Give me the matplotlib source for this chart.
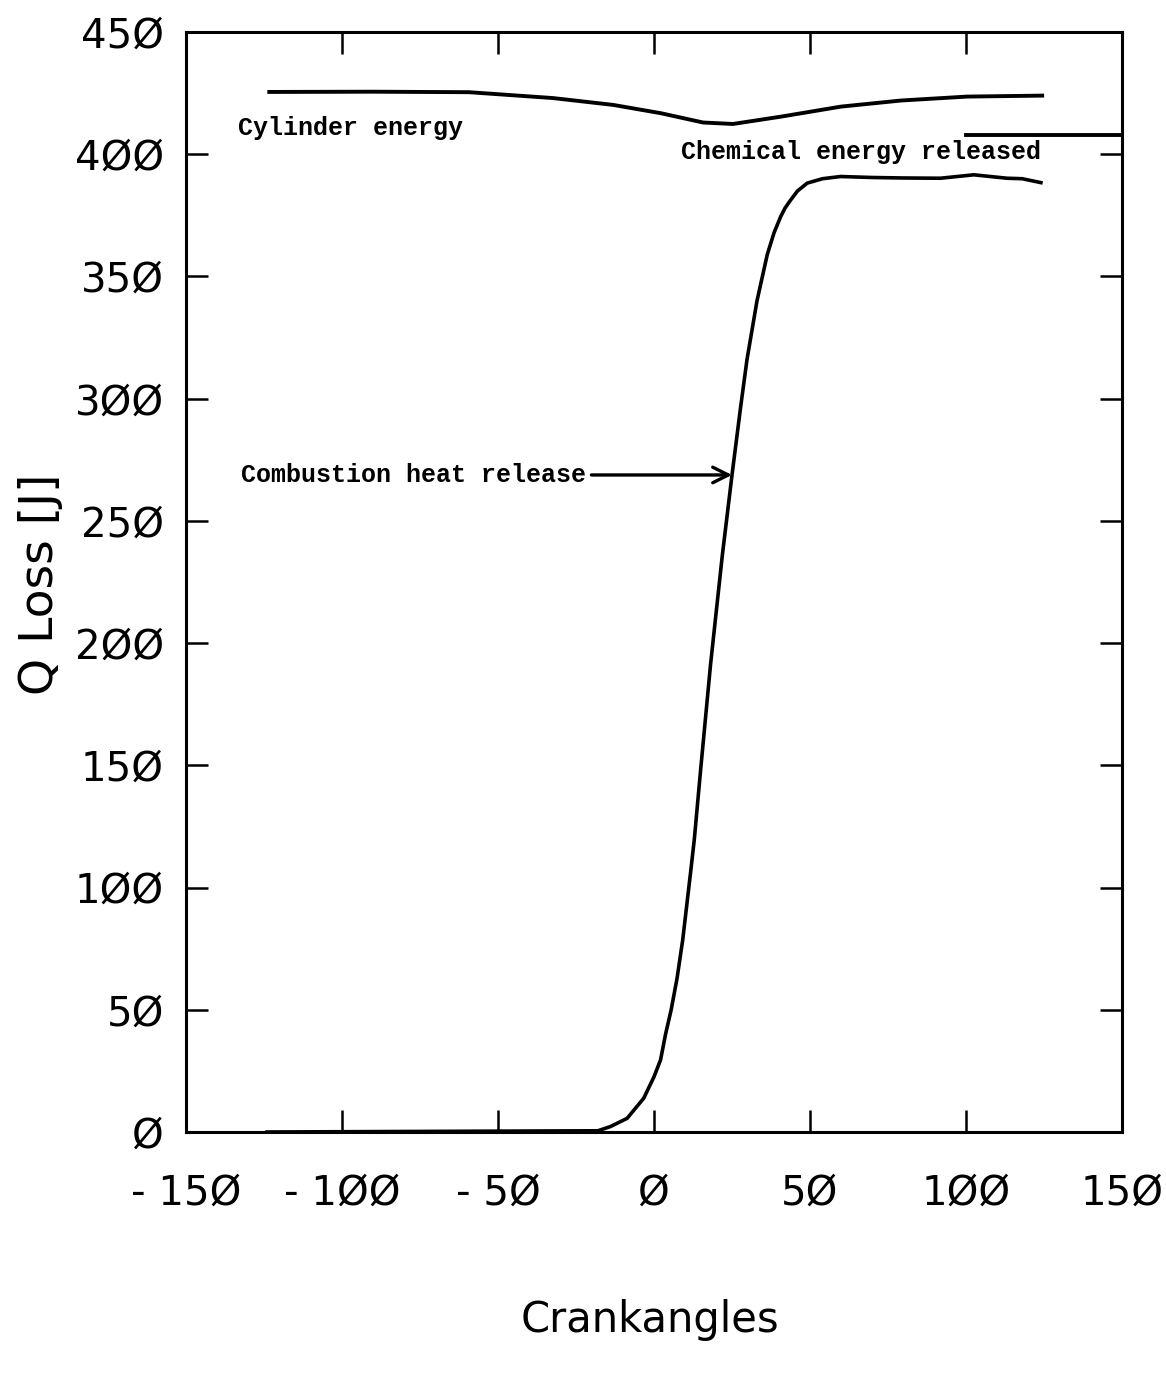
import matplotlib.pyplot as plt
from matplotlib.ticker import FuncFormatter

# crank angle [deg] vs energy [J]
cyl_x = [-123.3, -90, -59.3, -32.4, -13.1, 2.2, 15.7, 25.3, 40.7, 59.9, 79.2, 100.3, 124.4]
cyl_y = [425.5, 425.6, 425.4, 423.0, 420.2, 416.8, 413.0, 412.4, 415.4, 419.5, 422.0, 423.6, 424.0]

chem_x = [100.0, 150.0]
chem_y = [408.0, 408.0]

comb_x = [-124, -18, -14, -8.6, -3.3, 0, 2.1, 3.7, 5.5, 7.4, 9.2, 11.7, 12.9, 15, 18.1,
          19.7, 21.9, 25, 27.7, 29.8, 33, 36.3, 38.5, 40.6, 42, 43.8, 46, 49.1, 54,
          59.8, 70, 80, 91.8, 102.5, 113.1, 118, 124]
comb_y = [0, 0.5, 2.2, 5.6, 13.8, 22.6, 29.5, 40, 50, 63, 78.6, 106, 119.5, 149, 191,
          210, 236, 268.8, 296, 316, 340, 359, 368, 374.5, 378, 381.3, 385, 388.2, 390,
          390.9, 390.5, 390.3, 390.2, 391.6, 390.2, 390, 388.4]

xticks = [-150, -100, -50, 0, 50, 100, 150]
yticks = [0, 50, 100, 150, 200, 250, 300, 350, 400, 450]

num_font = ['DejaVu Sans']
note_font = ['Liberation Mono', 'DejaVu Sans Mono']

fig = plt.figure(figsize=(11.66, 13.82), dpi=100)
ax = fig.add_axes([0.1595, 0.1809, 0.8028, 0.7959])

ax.plot(cyl_x, cyl_y, color='black', lw=2.8)
ax.plot(chem_x, chem_y, color='black', lw=2.8, clip_on=False)
ax.plot(comb_x, comb_y, color='black', lw=2.6)

ax.set_xlim(-150, 150)
ax.set_ylim(0, 450)
ax.set_xticks(xticks)
ax.set_yticks(yticks)


def slashed(v, pos):
    s = '%d' % v
    s = s.replace('0', '\u00d8')
    if s.startswith('-'):
        s = '- ' + s[1:]
    return s


ax.xaxis.set_major_formatter(FuncFormatter(slashed))
ax.yaxis.set_major_formatter(FuncFormatter(slashed))
ax.tick_params(direction='in', length=16, width=1.8, top=True, right=True,
               labelsize=29, color='black')
ax.tick_params(axis='x', pad=30)
ax.tick_params(axis='y', pad=16)
for lab in ax.get_xticklabels() + ax.get_yticklabels():
    lab.set_family(num_font)
for sp in ax.spines.values():
    sp.set_linewidth(2.2)

ax.text(-133.3, 410.8, 'Cylinder energy', family=note_font, fontweight='bold',
        fontsize=18, va='center', ha='left')
ax.text(8.7, 401, 'Chemical energy released', family=note_font, fontweight='bold',
        fontsize=18, va='center', ha='left')
ax.annotate('Combustion heat release', xy=(25, 268.8), xytext=(-132.4, 268.8),
            family=note_font, fontweight='bold', fontsize=18, va='center', ha='left',
            arrowprops=dict(arrowstyle='->', color='black', lw=2.4,
                            mutation_scale=28, shrinkA=2, shrinkB=0))

fig.text(0.557, 0.045, 'Crankangles', family=num_font, fontsize=30,
         ha='center', va='center')
fig.text(0.035, 0.577, 'Q Loss [J]', family=num_font, fontsize=34,
         ha='center', va='center', rotation=90)

fig.savefig('out.png', dpi=100)
